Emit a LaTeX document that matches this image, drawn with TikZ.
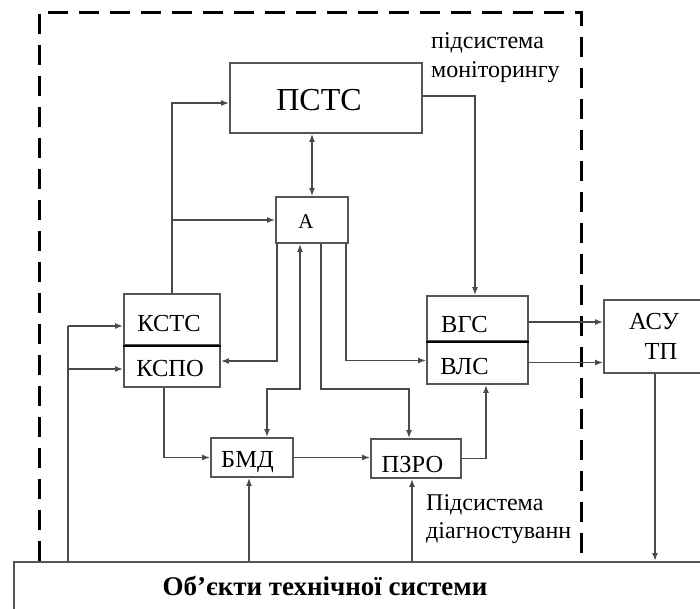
\documentclass[tikz,border=0pt]{standalone}
\usepackage{fontspec}
\setmainfont{Liberation Serif}
\usetikzlibrary{arrows.meta}
\definecolor{boxgray}{HTML}{555555}
\definecolor{linegray}{HTML}{4A4A4A}
\newcommand\boxlab[2]{\raisebox{-#1pt}[0pt][0pt]{#2}}
\begin{document}
\begin{tikzpicture}[x=1pt,y=-1pt,
  box/.style={draw=boxgray, line width=1.8pt, fill=white, inner sep=0pt, font=\fontsize{24.5}{30}\selectfont},
  conn/.style={draw=linegray, line width=1.6pt},
  arr/.style={conn, -{Latex[length=8pt,width=6pt]}},
  darr/.style={conn, {Latex[length=8pt,width=6pt]}-{Latex[length=8pt,width=6pt]}},
  framedash/.style={line width=3pt, dash pattern=on 20pt off 11pt},
  divider/.style={line width=2.8pt, black},
  lbl/.style={anchor=base west, inner sep=0pt, font=\fontsize{24}{27}\selectfont}
]
\useasboundingbox (0,0) rectangle (700,608);
\clip (0,0) rectangle (700,608);

% dashed frame
\draw[framedash] (39,561) -- (39,12) -- (581,12) -- (581,561);

% boxes
\node[box, minimum width=192, minimum height=70] (pstc) at (326,98) {};
\node[anchor=base, inner sep=0pt, font=\fontsize{32}{36}\selectfont] (pstctext) at (319,110) {ПСТС};
\node[box, minimum width=72, minimum height=46, font=\fontsize{21}{24}\selectfont] (a) at (312,220) {\boxlab{8.7}{А}\hspace*{12pt}};
\node[box, minimum width=96, minimum height=51] (kstc) at (172,319.5) {\boxlab{11.6}{КСТС}\hspace*{6pt}};
\node[box, minimum width=96, minimum height=42] (kspo) at (172,366) {\boxlab{10.1}{КСПО}\hspace*{4pt}};
\node[box, minimum width=101, minimum height=45] (vgs) at (477.5,318.5) {\boxlab{13.6}{ВГС}\hspace*{26pt}};
\node[box, minimum width=101, minimum height=43] (vls) at (477.5,362.5) {\boxlab{11.6}{ВЛС}\hspace*{26pt}};
\node[box, minimum width=108, minimum height=73, align=center] (asu) at (658,336.5) {АСУ\hspace*{8pt}\\\hspace*{6pt}ТП};
\node[box, minimum width=82, minimum height=39] (bmd) at (252,457.5) {\boxlab{9.6}{БМД}\hspace*{9pt}};
\node[box, minimum width=90, minimum height=39] (pzro) at (416,458.5) {\boxlab{13.6}{ПЗРО}\hspace*{7pt}};
\node[box, minimum width=740, minimum height=80, anchor=north west] (obj) at (13,561) {};
\node[anchor=base, inner sep=0pt, font=\fontsize{27}{30}\selectfont\bfseries] (objtext) at (325,595) {Об’єкти технічної системи};

\draw[divider] (kstc.south west) -- (kstc.south east);
\draw[divider] (vgs.south west) -- (vgs.south east);

% labels
\node[lbl] (lmon1) at (431,48) {підсистема};
\node[lbl] (lmon2) at (431,77) {моніторингу};
\node[lbl] (ldia1) at (426,510) {Підсистема};
\node[lbl] (ldia2) at (426,538) {діагностуванн};

% coordinates
\coordinate (lsrc) at (68,561);
\coordinate (kstcin) at (68,326);
\coordinate (kspoin) at (68,369);

% connectors
\draw[arr] (kstc.north) |- ([yshift=-5pt]pstc.west);
\draw[arr] (kstc.north |- a.west) -- (a.west);
\draw[darr] (a.north) -- (a.north |- pstc.south);
\draw[arr] ([yshift=2pt]pstc.east) -| ([xshift=-2.5pt]vgs.north);
\draw[arr] ([xshift=2pt]a.south west) |- ([yshift=5pt]kspo.east);
\draw[darr] ([xshift=-12pt]a.south) -- ([xshift=-12pt]a.south |- 0,389) -| ([xshift=15pt]bmd.north);
\draw[arr] ([xshift=9pt]a.south) -- ([xshift=9pt]a.south |- 0,389) -| ([xshift=-7pt]pzro.north);
\draw[arr] ([xshift=-3pt]a.south east) |- ([yshift=2pt]vls.west);
\draw[arr] ([yshift=-3.5pt]vgs.east) -- ([yshift=-3.5pt]vgs.east -| asu.west);
\draw[arr] (vls.east) -- (vls.east -| asu.west);
\draw[arr] ([xshift=-3pt]asu.south) -- ([xshift=-3pt]asu.south |- obj.north);
\draw[conn] (lsrc) -- (kstcin);
\draw[arr] (kstcin) -- (kstcin -| kstc.west);
\draw[arr] (kspoin) -- (kspoin -| kspo.west);
\draw[arr] ([xshift=-8pt]kspo.south) |- (bmd.west);
\draw[arr] (bmd.east) -- (pzro.west |- bmd.east);
\draw[arr] (pzro.east) -| ([xshift=8.5pt]vls.south);
\draw[arr] ([xshift=-3pt]bmd.south |- obj.north) -- ([xshift=-3pt]bmd.south);
\draw[arr] ([xshift=-4pt]pzro.south |- obj.north) -- ([xshift=-4pt]pzro.south);
\end{tikzpicture}
\end{document}
